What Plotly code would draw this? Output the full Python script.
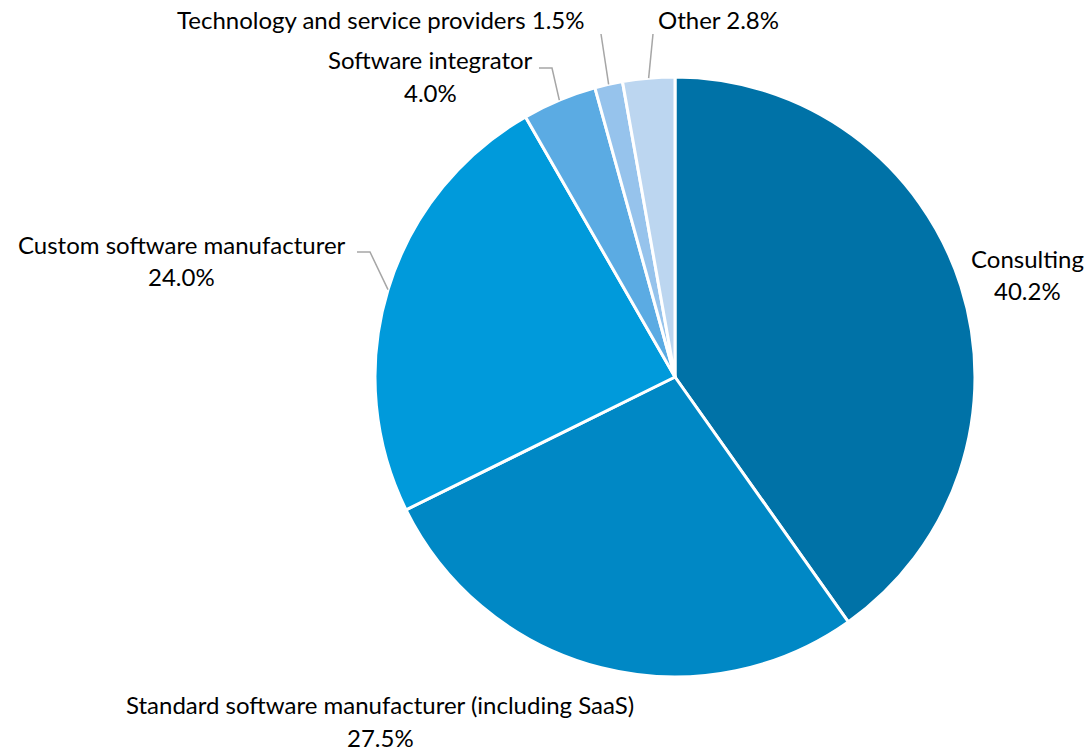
import math
import plotly.graph_objects as go

# Share of respondents by company type
categories = [
    "Consulting",
    "Standard software manufacturer (including SaaS)",
    "Custom software manufacturer",
    "Software integrator",
    "Technology and service providers",
    "Other",
]
shares = [40.2, 27.5, 24.0, 4.0, 1.5, 2.8]
colors = ["#0072A7", "#0088C5", "#009ADB", "#5BABE3", "#96C3EC", "#BCD6F0"]

W, H = 1089, 752
CX, CY, R = 675, 377, 300  # pie centre and radius in pixels

FONT = "Lato"
FS = 24
TXT = "#000000"
LINE = "#A6A6A6"


def px(x):
    return x / W


def py(y):
    return 1 - y / H


fig = go.Figure(
    go.Pie(
        labels=categories,
        values=shares,
        sort=False,
        direction="clockwise",
        rotation=0,
        marker=dict(colors=colors, line=dict(color="white", width=3)),
        textinfo="none",
        hoverinfo="label+percent",
        domain=dict(x=[px(CX - R), px(CX + R)], y=[py(CY + R), py(CY - R)]),
    )
)

# mid angle of each slice (clockwise from 12 o'clock) -> point on the rim
total = sum(shares)
rim = []
acc = 0.0
for v in shares:
    mid = (acc + v / 2) / total * 2 * math.pi
    rim.append((CX + R * math.sin(mid), CY - R * math.cos(mid)))
    acc += v

# label placement: (centre x, first line y, second line y or None, elbow points)
placement = {
    "Consulting": (1027, 258, 290, None),
    "Standard software manufacturer (including SaaS)": (380, 704, 737, None),
    "Custom software manufacturer": (182, 244, 276, [(357, 252), (370, 252)]),
    "Software integrator": (430, 60, 92, [(539, 68), (552, 68)]),
    "Technology and service providers": (380, 20, None, [(601, 34)]),
    "Other": (718, 20, None, [(653, 34)]),
}

annotations = []
shapes = []
for i, (name, val) in enumerate(zip(categories, shares)):
    x, y1, y2, elbow = placement[name]
    pct = f"{val:.1f}%"
    if y2 is None:
        lines = [(f"{name} {pct}", y1)]
    else:
        lines = [(name, y1), (pct, y2)]
    for text, yy in lines:
        annotations.append(
            dict(
                x=px(x), y=py(yy), xref="paper", yref="paper",
                text=text, showarrow=False, xanchor="center", yanchor="middle",
                font=dict(family=FONT, size=FS, color=TXT),
            )
        )
    if elbow:
        pts = elbow + [rim[i]]
        path = "M " + " L ".join(f"{px(a)},{py(b)}" for a, b in pts)
        shapes.append(
            dict(type="path", xref="paper", yref="paper", path=path,
                 line=dict(color=LINE, width=1.5))
        )

fig.update_layout(
    width=W,
    height=H,
    margin=dict(l=0, r=0, t=0, b=0),
    paper_bgcolor="white",
    plot_bgcolor="white",
    showlegend=False,
    annotations=annotations,
    shapes=shapes,
)

fig.write_html("out.html")
